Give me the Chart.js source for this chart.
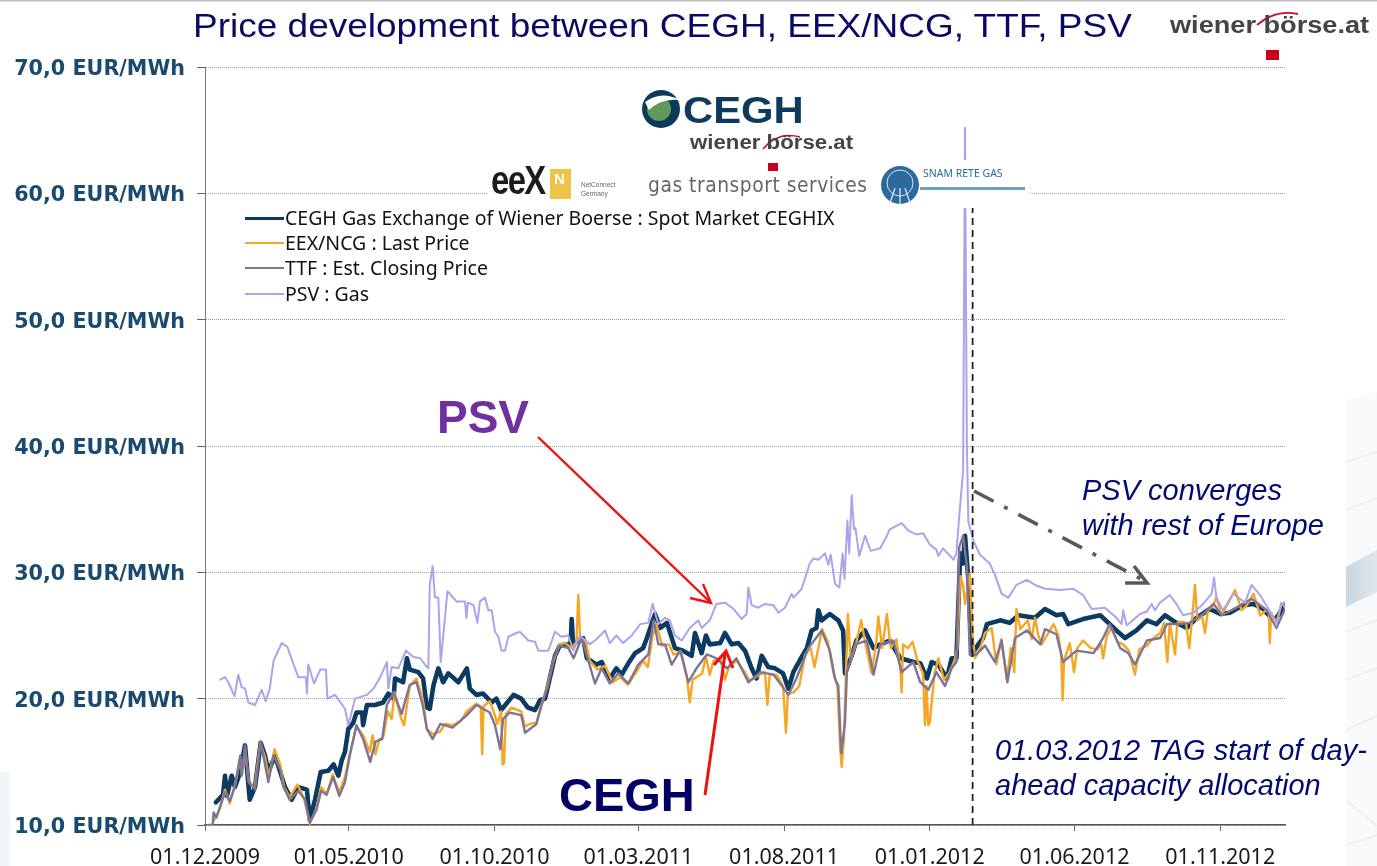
<!DOCTYPE html>
<html><head><meta charset="utf-8">
<style>
html,body{margin:0;padding:0;background:#fff;width:1377px;height:866px;overflow:hidden}
#wrap{position:relative;width:1377px;height:866px;overflow:hidden;font-family:"Liberation Sans",sans-serif}
#wrap canvas{position:absolute;left:0;top:0;filter:blur(0.45px)}
.t{position:absolute;white-space:nowrap;line-height:1;transform-origin:0 0}
.leg{position:absolute;left:245px;height:0}
.leg i{position:absolute;left:0;width:39px;top:-1px}
.leg span{position:absolute;left:40px;top:-13px;font:19.5px/26px "Noto Sans",sans-serif;color:#111;white-space:nowrap;transform-origin:0 50%}
svg{position:absolute;left:0;top:0}
</style></head><body>
<div id="wrap">
<svg id="bg" width="1377" height="866">
  <defs><linearGradient id="g" x1="0" x2="1"><stop offset="0" stop-color="#c9d7e0"/><stop offset="1" stop-color="#dfe7ec"/></linearGradient></defs>
  <rect x="0" y="0" width="1377" height="1.5" fill="#bdbdbd"/>
  <polygon points="1346,400 1377,392 1377,866 1346,866" fill="#f9fafb"/>
  <polygon points="1346,567 1377,550 1377,592 1346,607" fill="url(#g)"/>
  <g stroke="#eef1f3" stroke-width="2" fill="none">
    <path d="M1346,462 L1377,452M1346,510 L1377,498M1346,632 L1377,620M1346,680 L1377,668M1346,730 L1377,716M1346,800 L1377,826M1346,845 L1377,835"/>
  </g>
  <rect x="0" y="772" width="10" height="94" fill="#f3f6f9"/>
</svg>
<canvas id="c" width="1377" height="866"></canvas>

<div class="t" id="title" style="left:193px;top:8px;font-size:34px;color:#0a0a66;transform:scaleX(1.088)">Price development between CEGH, EEX/NCG, TTF, PSV</div>

<!-- top-right mark and partner logos -->
<svg width="1377" height="866" style="pointer-events:none">
  <path d="M1257,25 Q1276,9 1298,14" stroke="#c8102e" stroke-width="1.8" fill="none"/>
  <rect x="1266" y="50" width="13" height="10" fill="#c8001e"/>
  <rect x="488" y="160" width="542" height="48" fill="#fff"/>
  <circle cx="661" cy="109" r="19" fill="#0c3a5a"/>
  <circle cx="659" cy="109" r="12" fill="#5d9a5c"/>
  <path d="M645,102 Q661,90 680,100 Q661,98 649,110Z" fill="#fff"/>
  <path d="M800,137 Q778,131 763,149" stroke="#c8102e" stroke-width="1.6" fill="none"/>
  <rect x="768" y="163" width="10" height="8" fill="#c8001e"/>
  <rect x="550" y="169" width="21" height="30" fill="#efc24a"/>
  <circle cx="900" cy="185" r="19" fill="#2c6a9e"/>
  <circle cx="900" cy="183" r="13" fill="none" stroke="#d8e6f0" stroke-width="1"/>
  <path d="M890,203L895,188M905,188L910,203M900,188V204" stroke="#d8e6f0" stroke-width="1.3"/>
  <rect x="920" y="187" width="105" height="3" fill="#6f9fc4"/>
</svg>
<div class="t" style="left:1170px;top:14px;font-size:23px;font-weight:bold;color:#444;transform:scaleX(1.18)">wiener börse.at</div>
<div class="t" style="left:683px;top:92px;font-size:37px;font-weight:bold;color:#0e3a5e;transform:scaleX(1.13)">CEGH</div>
<div class="t" style="left:690px;top:133px;font-size:19.5px;font-weight:bold;color:#444;transform:scaleX(1.14)">wiener börse.at</div>
<div class="t" style="left:491px;top:160px;font-size:41px;font-weight:bold;color:#1c1c1c;letter-spacing:-2px;transform:scaleX(.8)">eeX</div>
<div class="t" style="left:554px;top:171px;font-size:15px;font-weight:bold;color:#fff">N</div>
<div class="t" style="left:581px;top:180px;font-size:6.5px;color:#666;line-height:9px">NetConnect<br>Germany</div>
<div class="t" style="left:648px;top:172px;font:21.5px 'DejaVu Sans',sans-serif;color:#666;transform:scaleX(.87);letter-spacing:.6px">gas transport services</div>
<div class="t" style="left:923px;top:166px;font:10.5px 'Noto Sans',sans-serif;color:#2c6a9e">SNAM RETE GAS</div>

<!-- annotation overlay -->
<svg width="1377" height="866" style="pointer-events:none">
  <g stroke="#f01010" stroke-width="2.4" fill="none">
    <path d="M538,437 L710,602"/><path d="M703,584 L711,603 L690,598"/>
  </g>
  <g stroke="#f01010" stroke-width="3" fill="none">
    <path d="M705,795 L725,654"/><path d="M714,665 L726,651 L733,668"/>
  </g>
  <g stroke="#595959" stroke-width="3.6" fill="none">
    <path d="M974,491 L1143,580" stroke-dasharray="22,12,4,12"/>
    <path d="M1134,566 L1147,583 L1125,583"/>
  </g>
</svg>
<div class="t" style="left:437px;top:394px;font-size:46px;font-weight:bold;color:#7030a0">PSV</div>
<div class="t" style="left:559px;top:771px;font-size:47px;font-weight:bold;color:#000066">CEGH</div>
<div class="t" style="left:1082px;top:476px;font-size:29px;font-style:italic;color:#000a70">PSV converges</div>
<div class="t" style="left:1082px;top:511px;font-size:29px;font-style:italic;color:#000a70">with rest of Europe</div>
<div class="t" style="left:995px;top:736px;font-size:29px;font-style:italic;color:#000a70">01.03.2012 TAG start of day-</div>
<div class="t" style="left:995px;top:771px;font-size:29px;font-style:italic;color:#000a70">ahead capacity allocation</div>
<div id="legend"></div>
</div>

<script src="https://cdn.jsdelivr.net/npm/chart.js@4"></script>
<script>
// x values: days since 01.12.2009 on the chart's axis; y values: EUR/MWh
const tickDays = [0,151,304,455,608,761,913,1066];
const tickLabels = ["01.12.2009","01.05.2010","01.10.2010","01.03.2011","01.08.2011","01.01.2012","01.06.2012","01.11.2012"];
const seriesNames = ["CEGH Gas Exchange of Wiener Boerse : Spot Market CEGHIX","EEX/NCG : Last Price","TTF : Est. Closing Price","PSV : Gas"];
const tagStartDay = 806;

const ceghPoints = [[11.5,11.8],[19,12.4],[21,13.9],[23,12.3],[28,13.9],[31.5,13],[37,14.2],[42,16.3],[47,12],[52.5,13],[58.5,16.5],[63,15.5],[66.5,14.2],[73.5,15.5],[79,14.2],[84,13],[91,12],[98,13],[107,12.8],[110,10.4],[115.5,12],[121.5,14.2],[129.5,14.3],[135,14.8],[140,13.9],[143.5,15.1],[147,15.8],[150.5,17.6],[155.7,18.1],[159,18.9],[165,18.9],[166,17.9],[170,19.5],[178.5,19.5],[187,19.7],[192.5,20.4],[198,20],[199.5,21.6],[208,21.3],[212,23.2],[215,22.3],[224,22.1],[229,21.6],[233,19.3],[236,19.2],[240,21.1],[245,22.4],[250,21.3],[255.5,22],[266,21.3],[275,22.4],[278,20.8],[285,20.3],[292,20.4],[301,19.7],[306,20],[311,19.1],[324,20.3],[332,20],[339,19.3],[346.5,19.1],[352,19.9],[357,20],[362,21.6],[367.5,23.4],[372.5,24.2],[381.5,24.3],[384,24.4],[385,26.3],[386.5,24.3],[394,24.7],[397,24.8],[401,23.2],[411,22.7],[416.5,22.9],[425,21.6],[432,22.4],[437.5,21.9],[444.5,22.8],[451.5,23.6],[460,24],[464,24.8],[472.5,26.7],[478,25.6],[485,26],[493.5,24],[502,23.8],[511,23.4],[514.5,25.2],[521.5,23.6],[526,25],[530,24.3],[541,24.4],[546,25.2],[553,24.3],[560,24.4],[567,23.8],[574,22.4],[579,21.6],[584.5,23.4],[591.5,22.5],[598.5,22.4],[607,22],[612.5,20.8],[617.75,22.1],[625,23.1],[632,24],[637,25.4],[642,25.6],[644,27],[647.5,26.2],[656,26.7],[665,26.2],[670,25.4],[672,22],[679,23.4],[684,24.6],[693,25.4],[702,24],[709,24.3],[719,24.6],[730,23.2],[744,22.9],[751,22.8],[758,21.6],[763,22.9],[770,22.7],[779,21.6],[784,23.2],[789,23.2],[793,31.5],[796,30.7],[798,32.9],[801.5,29.4],[805,23.5],[812,24.3],[817,24.8],[821,25.9],[835,26.2],[845,26],[854,26.6],[871.5,26.4],[882,27.1],[894,26.6],[901,26.7],[906.5,25.9],[922,26.3],[940,26.6],[950,25.9],[957,25.4],[966,24.8],[978,25.4],[989,26.2],[999,25.9],[1008,26.6],[1020,26],[1031,25.6],[1041,26.4],[1055,27.1],[1066,26.7],[1076,26.8],[1090,27.4],[1101,27.5],[1111,27.1],[1122,26.2],[1127,26.6],[1134,27.5]];

const eexPoints = [[9,10.3],[14,11],[16,11.4],[21,12.8],[26,11.7],[31,13],[37,15.2],[39,14],[42,16],[46,13.4],[52,12.9],[58,16.5],[63,15.4],[67,13.8],[73,16],[79,14.8],[83,13],[89,12.2],[97,13.2],[104,12.1],[110,10.1],[117,11.3],[122,13],[128,12.4],[134,14],[141,12.6],[147,13.8],[152,15.6],[159,17.8],[166,17.1],[173,15.8],[176,17.1],[179,15.6],[183,16.8],[187,16.9],[192,19],[196,18.4],[199,20.5],[206,18.4],[209,17.9],[215,21],[222,21.6],[229,19.8],[233,17.6],[239,17.2],[247,17.4],[252,18],[260,17.9],[268,18.2],[275,19],[285,19.6],[289.5,19.4],[291,15.6],[292.5,19.4],[299,19.8],[303,19],[307,18],[311,19],[312.5,14.8],[314,14.9],[316,18.8],[322,19.3],[332,19],[336,17.8],[341,18],[348,18.1],[353,19.5],[360,21.2],[366,23],[372,24.3],[378,24.4],[385,24],[390,24.5],[392,28.2],[394,24.6],[400,24.5],[404,23],[412,22.3],[420,22.6],[428,21.3],[436,21.7],[444,21.1],[452,22],[460,23],[465,22.5],[470,25],[474,25.9],[480,24.2],[487,24.3],[492,23.5],[500,23.7],[506,21.7],[509,19.7],[512,21.5],[518,21.8],[522,22],[526,23.3],[530,21.9],[534,23],[541,23.2],[546,21.5],[550,22.5],[558,23],[566,22.2],[572,21.4],[580,21.8],[588,22.1],[590.5,19.5],[593,21.9],[600,21.9],[607,21],[610,17.3],[612,20.4],[618,20.5],[624,21],[630,23.5],[636,24],[640,22.5],[648,25.5],[654,24.5],[660,22],[664,21],[667,16],[668.5,14.6],[671,17],[673,22],[675,26.7],[678,23],[684,24.5],[689,26.2],[693,24.5],[700,22],[705,24.6],[707,26.5],[711,24],[716,26.7],[720,24],[726,24.7],[730,22.5],[731.5,20.5],[733,24.3],[738,24],[743,24.5],[748,23],[754,22],[756,17.9],[757.5,21],[759.5,17.9],[761,18.1],[766,22],[770,23.2],[776,21.5],[781,22],[787,23],[790,24],[793,29.7],[796,29],[798,27.5],[803,29.9],[806,25],[808.5,23.2],[814,24],[819,25.2],[826,25.6],[831,22.7],[836,24.7],[842,21.5],[846,24],[849.75,22.1],[852,27.1],[856,25.5],[864,26.2],[868,24.7],[871.5,26.4],[875,25],[878.5,24.3],[884,25],[891,25.9],[896,25],[899,23.5],[900.5,19.9],[902,23],[908,24.4],[912.5,22.1],[916,24],[922,24.6],[930,24],[937,23.9],[941,24.3],[943,23.2],[947,25],[952,25.6],[958,24.5],[964,24.3],[970,23.8],[976.5,21.9],[981,23.9],[989,24.2],[996,24.8],[1003,25.2],[1007,26],[1010.5,22.9],[1013,26],[1018.5,23.5],[1021,26],[1026,26.1],[1030,26],[1033.5,24],[1036,26],[1039.5,29],[1042,26.2],[1047,26.5],[1050,25.2],[1053,27],[1058,27.3],[1062,28],[1067.5,26.6],[1073,27.4],[1081.5,28.6],[1088.5,27],[1094,27.4],[1101,28.3],[1108,26.6],[1114,27],[1117,26.8],[1118,24.4],[1119.5,26.8],[1125,26],[1130,27.4],[1134,27.6]];

const ttfPoints = [[3,10],[8,10],[9,11],[12,10.6],[16,11.5],[21,12.6],[26,11.9],[31.5,13.1],[37,15.5],[38.5,13.9],[42,16.3],[45.5,13.5],[52.5,12.8],[58.5,16.6],[66.5,13.4],[72,15.5],[79,14.4],[82,13.1],[89,12],[98,12.7],[105,12],[110,10.2],[117,11.2],[122,12.7],[127.5,12.4],[134.5,13.8],[141,12.3],[147,13.4],[152,15.5],[159,17.9],[166,16.8],[173.5,15],[179,16.6],[186,16.8],[191,19.5],[198,20.5],[206.5,18.8],[215,21.1],[222,21.3],[228.5,19.5],[233,17.6],[239,16.8],[247,18],[260,17.7],[275,18.7],[285,19.5],[299,18.9],[304.5,17.9],[310,16],[313,18.4],[320,18.9],[332,18.7],[336,17.3],[348,18],[353.5,19.5],[360.5,21.1],[366,23.2],[372.5,24.2],[381.5,24],[387,23.2],[395.5,24.8],[402.5,23],[409.5,21.2],[416.5,22.4],[425,21.2],[434,22],[444.5,21.2],[455,22.7],[465.5,23.5],[471,26.2],[476,24.3],[483,24.3],[490,22.7],[499,23.8],[507.5,21.3],[516,22.4],[527,23.5],[537,23.2],[548,22.4],[558,23.2],[570.5,21.3],[583,22.1],[597,21.9],[612.5,20.3],[621,21.6],[633.5,24],[647.5,25.4],[656,23.8],[661.5,21.6],[665,21],[668,15.7],[672,18.1],[674,22.1],[682.5,24.3],[695,24.6],[702,21.9],[709,24.3],[722.75,24.6],[731.5,22.1],[743.75,22.9],[751,21.3],[759.5,20.7],[768,22.1],[777,21],[784,22.4],[789,22.9],[792,32],[796,32.9],[800,30.5],[803,23.5],[810,23.5],[819,24.2],[829.5,22.9],[836.5,24.6],[842.5,21.3],[850.5,24.8],[863,25.4],[877,24.3],[882,25.5],[894,25.1],[901,22.9],[915,23.8],[933,23.6],[943,24.8],[950,25.9],[961,24],[969.5,23.6],[976.5,22.7],[989,24.6],[1003,24.8],[1010,25.9],[1024,25.9],[1034,26],[1048,26.7],[1059,27.5],[1067.5,26.6],[1083,27.2],[1099,27.9],[1115,27],[1125,25.6],[1134,27.1]];

const psvPoints = [[16,21.5],[21,21.7],[24.5,21.3],[31,20.2],[35,21.9],[38.5,20.9],[42,20.8],[45.5,19.7],[52.5,19.5],[59.5,20.7],[63.7,19.8],[68,20.8],[72,23],[80.5,24.4],[86.5,24.1],[93,22.7],[98,21.7],[106,21.7],[107,20.4],[108.5,22.7],[114.5,21.2],[121,22.3],[127,22.3],[128.5,20],[136.5,20.3],[147,19.2],[150.5,17.9],[157.5,20],[170,20.3],[177,20.8],[184,21.7],[191,22.9],[192.5,20.8],[196,22.5],[203,22.4],[211,23.8],[219,23.3],[226,23.2],[233,22.5],[234.5,22.4],[236,29],[239,30.5],[241.5,28],[245,28],[247.5,22.9],[251,25.6],[254.5,28.5],[264,27.7],[273,27.7],[274.5,26.4],[276,27.6],[282,27.4],[286,26],[288.7,27.7],[294,28],[297.5,27],[301,27],[304.5,25.3],[308,24.9],[311.5,23.8],[315,23.8],[318.5,24.9],[327,25.2],[330.5,25.3],[339.5,24.6],[346.5,24.5],[350,23.8],[360.5,23.8],[367.5,25.3],[374.5,24.9],[381.5,25],[386.75,23.8],[393.75,25],[404,24.3],[411,24.7],[420,25.4],[425,24.4],[432,25],[439,24.4],[448,25],[457,25.9],[465.5,26],[470,27.5],[476,25.9],[483,26.4],[488,26.2],[493.5,25],[500.5,24.6],[509,25.6],[518,26.2],[521.5,25.6],[530,26.2],[537,27.5],[546,27.6],[555,27.1],[563.5,26.3],[568.75,26.7],[570.5,28.8],[574,27.4],[581,27.2],[588,27.5],[597,27.4],[602,26.8],[609,27.2],[616,28.3],[618,28],[626.5,28.7],[635,30.7],[639,31.1],[644,31],[651,31.5],[654.5,30.6],[657,31.4],[661.5,29.1],[666,28.8],[669.5,31.5],[671.5,29.5],[674.5,34.1],[676.5,31.5],[679,36.1],[681.5,33.4],[683,33.5],[687,31.3],[693,32.9],[699,31.7],[709,31.9],[716,32.9],[719,33.4],[731.5,33.9],[738.5,33.3],[747,33],[754,33.1],[761,32.2],[768,31.8],[770,31.3],[775,31.9],[786,31],[789,31.5],[792,34.5],[796,38],[798,65.2],[800,40],[801.5,34],[806.75,32.5],[813.75,31.4],[824,30.7],[829.5,29.8],[836.5,28.3],[843.5,28],[852,29],[863,29.4],[871.5,29],[882,28.7],[897.75,28.6],[911.75,28.7],[922,28.2],[931,27.1],[945,27.2],[957,26.4],[962.5,25.9],[964,27],[967.75,25.8],[981.75,26.7],[989,26.9],[994,27.5],[997.5,27],[1002.75,27.6],[1013,28.2],[1020,27.5],[1027,26.6],[1037.75,26.8],[1048,27.5],[1057,28.3],[1059.5,29.6],[1062,28],[1069,27],[1079.75,28.3],[1092,27.6],[1099,29],[1107.75,28.2],[1116.75,27.1],[1125,25.8],[1130,27.6],[1134,27.2]];

const seriesColors = ["#0b3a63","#f5a623","#7d7598","#a9a4ee"];
const seriesWidths = [4.6,2.4,2.4,2];
const seriesPoints = [ceghPoints,eexPoints,ttfPoints,psvPoints];
const legendY = [218,243,268,294];

const toXY = p => ({x:p[0],y:p[1]});
const datasets = seriesNames.map((n,i)=>({
  label:n, data:seriesPoints[i].map(toXY), borderColor:seriesColors[i], borderWidth:seriesWidths[i],
  pointRadius:0, tension:0, fill:false, order:4-i, borderJoinStyle:'round', borderCapStyle:'round'
}));
datasets.push({label:'TAG start',data:[{x:tagStartDay,y:10},{x:tagStartDay,y:58.9}],borderColor:'#222',borderWidth:1.8,borderDash:[7,5],pointRadius:0,order:0});

const lg=document.getElementById('legend');
seriesNames.forEach((n,i)=>{
  const d=document.createElement('div');d.className='leg';d.style.top=legendY[i]+'px';
  d.innerHTML='<i style="height:'+Math.max(1.5,seriesWidths[i]-1.2)+'px;background:'+seriesColors[i]+'"></i><span>'+n+'</span>';
  lg.appendChild(d);
});

new Chart(document.getElementById('c'),{
  type:'line',
  data:{datasets},
  options:{
    responsive:false,animation:false,
    layout:{padding:{top:67,right:92,left:0,bottom:0}},
    plugins:{legend:{display:false},tooltip:{enabled:false}},
    scales:{
      x:{type:'linear',min:0,max:1134,
        afterBuildTicks:s=>{s.ticks=tickDays.map(v=>({value:v}));},
        afterFit:s=>{s.height=41;},
        border:{color:'#555',width:1.5},
        grid:{drawOnChartArea:false,tickLength:6,color:'#666'},
        ticks:{autoSkip:false,maxRotation:0,minRotation:0,padding:14,color:'#1a1a1a',font:{family:'"Noto Sans"',size:21.5},
          callback:v=>tickLabels[tickDays.indexOf(v)]}},
      y:{min:10,max:70,
        afterFit:s=>{s.width=205;},
        border:{color:'#777',width:1,dash:[1,1]},
        grid:{color:'#a0a0a0',lineWidth:1,tickLength:8,tickColor:'#666',tickBorderDash:[]},
        ticks:{stepSize:10,padding:12,labelOffset:2.5,color:'#1b4a70',font:{family:'"DejaVu Sans"',size:20.7,weight:'bold'},
          callback:v=>v.toFixed(1).replace('.',',')+' EUR/MWh'}}
    }
  }
});
</script>
</body></html>
